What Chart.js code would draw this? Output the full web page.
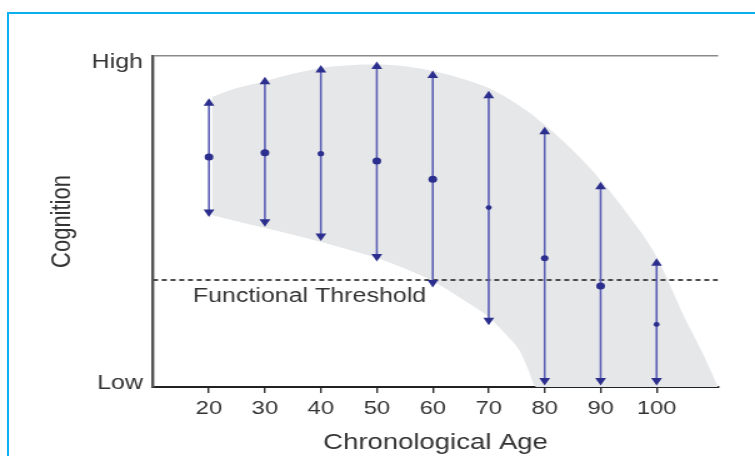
<!DOCTYPE html>
<html>
<head>
<meta charset="utf-8">
<script src="https://cdn.jsdelivr.net/npm/chart.js@4.4.1/dist/chart.umd.min.js"></script>
<style>
  html, body { margin: 0; padding: 0; background: #fff; overflow: hidden; }
  #frame { position: absolute; left: 7px; top: 12px; width: 800px; height: 500px;
           border-left: 2px solid #0bb0ee; border-top: 2px solid #0bb0ee; }
  /* the source figure is stretched horizontally, so draw narrow and scale */
  #wrap { position: absolute; left: 0; top: 0; width: 604px; height: 456px;
          transform: scaleX(1.25); transform-origin: 0 0; }
</style>
</head>
<body>
<div id="frame"></div>
<div id="wrap"><canvas id="chart" width="604" height="456"></canvas></div>
<script>
// age groups with the range of cognition (arrow ends) and the mean dot
const ages = [20, 30, 40, 50, 60, 70, 80, 90, 100];
const upperLimits = [85.7, 92.2, 95.8, 96.8, 94.1, 88.0, 77.1, 60.5, 37.4];
const meanValues = [69.5, 70.8, 70.5, 68.3, 62.8, 54.2, 38.9, 30.5, 18.9];
const lowerLimits = [52.9, 49.9, 45.6, 39.4, 31.6, 20.2, 2.0, 2.0, 2.0];

// grey envelope
const bandAges = [20.5, 25, 30, 35, 40, 45, 50, 55, 60, 65, 70, 73, 75.5, 77, 78.5, 80, 85, 90, 95, 100, 105, 108, 111];
const bandUpper = [87.6, 90.3, 92.4, 94.6, 96.4, 97.2, 97.4, 96.9, 95.5, 93.3, 90.3, 87.6, 85.0, 83.2, 81.3, 79.2, 71.5, 62.5, 51.8, 39.3, 21.0, 11.0, 0];
const bandLower = [52.0, 50.1, 48.0, 46.0, 43.8, 41.5, 39.0, 35.8, 32.0, 26.8, 21.1, 16.0, 11.0, 5.5, 0, 0, 0, 0, 0, 0, 0, 0, 0];

const thresholdLevel = 32.3;
const thresholdLabel = 'Functional Threshold';
const thresholdLabelAge = 17.1;

const xTicks = [20, 30, 40, 50, 60, 70, 80, 90, 100];
const xRange = [10, 111];
const yTickValues = [1, 98];
const yTickLabels = ['Low', 'High'];
const yTop = 100;

const arrowColor = '#2b2e8c';
const shaftColor = '#5a5eb4';
const textColor = '#333333';
const fontFamily = '"Liberation Sans", Arial, sans-serif';

const toPoints = (xs, ys) => xs.map((x, i) => ({ x: x, y: ys[i] }));

const datasets = [];

// mean dots (first = drawn on top)
datasets.push({
  data: toPoints(ages, meanValues),
  showLine: false,
  pointStyle: 'circle',
  pointRadius: [3.5, 3.5, 2.6, 3.5, 3.5, 2.4, 3, 3.5, 2.4],
  pointBackgroundColor: arrowColor,
  pointBorderWidth: 0
});

// double-headed arrows
ages.forEach((age, i) => {
  datasets.push({
    data: [{ x: age, y: lowerLimits[i] }, { x: age, y: upperLimits[i] }],
    borderColor: shaftColor,
    borderWidth: 1.6,
    pointStyle: 'triangle',
    pointRotation: [180, 0],
    pointRadius: 5,
    pointBackgroundColor: arrowColor,
    pointBorderWidth: 0,
    fill: false
  });
});

// threshold
datasets.push({
  data: xRange.map(x => ({ x: x, y: thresholdLevel })),
  borderColor: '#4a4a4a',
  borderWidth: 2,
  borderDash: [4, 3],
  pointRadius: 0,
  fill: false
});

// band: upper fills down to the next dataset (lower)
datasets.push({
  data: toPoints(bandAges, bandUpper),
  borderWidth: 0,
  pointRadius: 0,
  cubicInterpolationMode: 'monotone',
  backgroundColor: '#e6e7e9',
  fill: '+1'
});
datasets.push({
  data: toPoints(bandAges, bandLower),
  borderWidth: 0,
  pointRadius: 0,
  cubicInterpolationMode: 'monotone',
  fill: false
});

const thresholdText = {
  id: 'thresholdText',
  afterDatasetsDraw(chart) {
    const { ctx, scales } = chart;
    ctx.save();
    ctx.font = '20px ' + fontFamily;
    ctx.fillStyle = textColor;
    ctx.textAlign = 'left';
    ctx.textBaseline = 'middle';
    ctx.fillText(thresholdLabel, scales.x.getPixelForValue(thresholdLabelAge),
      scales.y.getPixelForValue(thresholdLevel) + 16);
    ctx.restore();
  }
};

new Chart(document.getElementById('chart').getContext('2d'), {
  type: 'line',
  data: { datasets: datasets },
  plugins: [thresholdText],
  options: {
    responsive: false,
    animation: false,
    layout: { padding: { top: 56, right: 29.5, bottom: 0, left: 0 } },
    plugins: {
      legend: { display: false },
      tooltip: { enabled: false },
      filler: { drawTime: 'beforeDatasetsDraw' }
    },
    scales: {
      x: {
        type: 'linear',
        min: xRange[0],
        max: xRange[1],
        afterBuildTicks: s => { s.ticks = xTicks.map(v => ({ value: v })); },
        afterFit: s => { s.height = 69; },
        ticks: {
          color: textColor,
          font: { family: fontFamily, size: 19 },
          padding: 4,
          maxRotation: 0
        },
        grid: { drawOnChartArea: false, drawTicks: true, tickLength: 6, color: '#333', lineWidth: 1.4 },
        border: { display: true, color: '#222', width: 2 },
        title: {
          display: true,
          text: 'Chronological Age',
          color: textColor,
          font: { family: fontFamily, size: 22 },
          padding: { top: 5, bottom: 0 }
        }
      },
      y: {
        type: 'linear',
        min: 0,
        max: yTop,
        afterBuildTicks: s => { s.ticks = yTickValues.concat([yTop]).map(v => ({ value: v })); },
        afterFit: s => { s.width = 122.4; },
        ticks: {
          color: textColor,
          font: { family: fontFamily, size: 20 },
          padding: 8,
          callback: v => (yTickValues.indexOf(v) >= 0 ? yTickLabels[yTickValues.indexOf(v)] : '')
        },
        grid: {
          drawTicks: false,
          color: ctx => (ctx.tick && ctx.tick.value === yTop ? '#8a8a8a' : 'rgba(0,0,0,0)'),
          lineWidth: 1.5
        },
        border: { display: true, color: '#555', width: 2.4 },
        title: {
          display: true,
          text: 'Cognition',
          color: textColor,
          font: { family: fontFamily, size: 22 },
          padding: { top: 37, bottom: 0 }
        }
      }
    }
  }
});
</script>
</body>
</html>
